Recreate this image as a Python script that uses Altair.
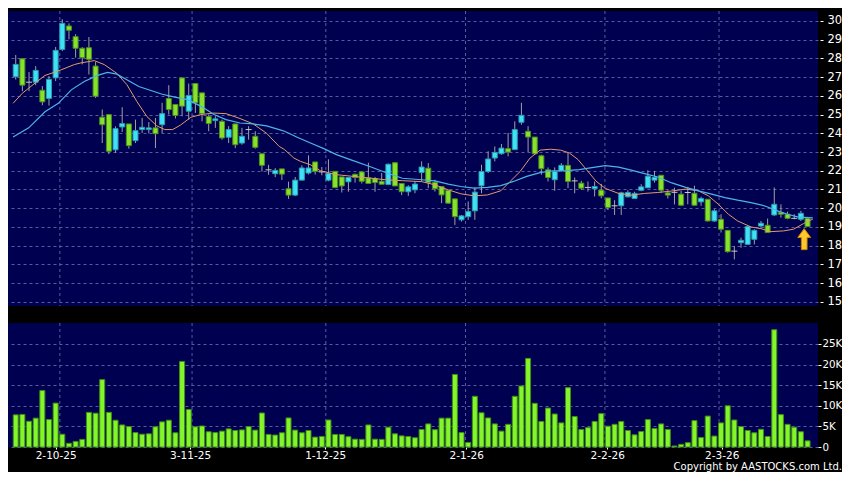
import altair as alt
import pandas as pd

# ---------------- data ----------------
opens = [27.02, 27.98, 26.73, 26.73, 26.30, 25.86, 26.96, 28.48, 29.73, 29.16,
         28.54, 28.57, 27.59, 24.86, 25.00, 23.12, 24.34, 24.50, 23.61, 24.20,
         24.20, 24.29, 24.46, 25.86, 25.54, 26.96, 25.18, 26.66, 26.16, 24.89,
         24.68, 24.64, 23.79, 24.50, 23.48, 24.20, 23.84, 22.91, 22.05, 21.84,
         22.10, 21.04, 20.70, 21.50, 21.88, 22.47, 21.94, 21.50, 21.97, 21.67,
         21.41, 21.81, 21.94, 21.62, 21.58, 21.44, 21.27, 22.43, 21.32, 20.88,
         20.98, 21.91, 22.14, 21.38, 21.16, 20.95, 20.50, 19.38, 19.55, 19.86,
         21.20, 21.96, 22.68, 22.91, 23.18, 23.13, 24.59, 24.11, 23.80, 22.80,
         22.05, 21.52, 22.00, 22.29, 21.46, 21.34, 21.11, 21.04, 20.97, 20.55,
         20.13, 20.13, 20.61, 20.52, 20.96, 21.09, 21.50, 21.76, 20.82, 20.85,
         20.75, 20.84, 20.80, 20.34, 20.48, 19.32, 19.41, 18.82, 17.71, 18.16,
         18.07, 18.34, 19.05, 19.09, 19.64, 19.77, 19.68, 19.46, 19.41, 19.46]
closes = [27.68, 26.57, 26.73, 27.36, 25.68, 26.88, 28.43, 29.87, 29.50, 28.54,
          28.04, 27.95, 25.98, 24.46, 23.04, 24.25, 24.52, 23.34, 24.14, 24.32,
          24.29, 23.98, 25.05, 25.27, 24.95, 25.45, 26.02, 25.63, 25.05, 24.52,
          24.77, 23.75, 24.20, 23.39, 23.84, 24.20, 23.25, 22.29, 22.05, 22.02,
          21.82, 20.70, 21.50, 22.15, 22.15, 21.97, 21.94, 21.85, 21.10, 21.19,
          21.64, 21.64, 21.44, 21.32, 21.37, 21.28, 22.35, 21.19, 20.88, 21.14,
          21.29, 22.20, 21.38, 21.04, 20.71, 20.27, 19.55, 19.59, 19.82, 20.86,
          21.96, 22.63, 22.98, 23.21, 23.00, 24.20, 24.96, 23.80, 22.91, 22.11,
          21.64, 21.96, 22.29, 21.43, 21.46, 21.07, 21.11, 21.16, 20.66, 20.04,
          20.13, 20.82, 20.84, 20.79, 21.14, 21.71, 21.64, 20.96, 20.70, 20.85,
          20.16, 20.84, 20.16, 20.52, 19.32, 19.86, 18.88, 17.68, 17.71, 18.29,
          19.02, 18.82, 19.20, 18.70, 20.21, 19.68, 19.46, 19.46, 19.73, 19.02]
highs = [28.18, 28.00, 27.27, 27.59, 26.52, 27.05, 28.61, 30.09, 29.87, 29.29,
         28.60, 29.14, 27.80, 25.27, 25.00, 24.37, 25.39, 24.50, 24.73, 24.82,
         24.60, 24.82, 25.63, 26.57, 25.54, 26.96, 26.66, 26.66, 26.16, 25.00,
         24.91, 24.73, 24.38, 24.50, 24.29, 24.38, 24.11, 22.91, 22.32, 22.14,
         22.10, 21.42, 21.67, 22.29, 22.82, 22.47, 22.20, 22.61, 21.97, 21.67,
         21.64, 21.85, 21.97, 22.43, 21.67, 21.88, 22.38, 22.47, 21.32, 21.23,
         21.43, 22.50, 22.41, 21.52, 21.16, 20.95, 20.50, 19.64, 20.36, 21.11,
         22.32, 23.04, 23.30, 23.43, 24.02, 24.64, 25.63, 24.38, 23.80, 22.86,
         22.18, 22.18, 22.41, 22.95, 21.64, 21.46, 21.43, 21.43, 21.30, 20.55,
         20.43, 20.88, 20.96, 20.88, 21.28, 22.03, 21.99, 21.76, 20.96, 21.10,
         20.93, 21.14, 21.20, 20.61, 20.48, 19.95, 19.68, 18.82, 17.98, 18.43,
         19.05, 18.88, 19.32, 19.45, 21.11, 20.21, 19.82, 19.68, 19.86, 19.54]
lows = [26.87, 26.25, 26.25, 26.57, 25.50, 25.48, 26.79, 28.39, 29.02, 28.04,
        27.68, 27.14, 25.89, 23.48, 22.89, 22.95, 24.07, 23.18, 23.48, 24.02,
        24.00, 23.21, 24.02, 25.00, 24.79, 24.91, 24.73, 25.09, 24.64, 24.11,
        24.29, 23.66, 23.48, 23.21, 23.39, 23.66, 23.18, 21.96, 21.79, 21.66,
        21.51, 20.50, 20.65, 21.50, 21.80, 21.80, 21.76, 21.44, 21.09, 20.84,
        20.88, 21.37, 21.32, 21.32, 20.88, 21.28, 21.23, 21.19, 20.70, 20.66,
        20.80, 21.43, 21.07, 20.89, 20.27, 20.23, 19.11, 19.29, 19.38, 19.38,
        20.80, 21.88, 22.50, 22.86, 22.77, 23.13, 24.46, 23.00, 22.86, 21.79,
        21.43, 20.93, 21.96, 21.07, 20.80, 20.98, 20.89, 20.63, 20.53, 19.90,
        19.64, 19.64, 20.58, 20.52, 20.91, 21.09, 21.37, 20.82, 20.52, 20.20,
        20.13, 20.21, 20.13, 20.13, 19.29, 19.27, 18.70, 17.63, 17.27, 17.89,
        18.07, 18.07, 18.96, 18.70, 19.59, 19.50, 19.41, 19.41, 19.32, 19.02]
volumes_k = [7.8, 7.9, 6.25, 7.0, 13.7, 6.65, 10.65, 3.1, 0.9, 1.35,
             1.85, 8.4, 8.2, 16.35, 8.4, 6.5, 5.35, 4.95, 3.5, 3.1,
             3.2, 4.9, 6.1, 6.5, 3.45, 20.75, 9.1, 4.9, 5.1, 3.7,
             3.5, 3.85, 4.4, 4.0, 4.15, 4.95, 4.1, 8.25, 3.05, 2.9,
             3.45, 7.05, 4.1, 3.45, 4.0, 2.4, 2.55, 6.55, 3.05, 3.05,
             2.5, 1.9, 1.85, 5.35, 1.9, 1.85, 4.8, 3.2, 2.7, 2.55,
             2.25, 4.25, 5.6, 4.2, 7.0, 7.0, 17.6, 3.5, 1.1, 12.3,
             8.3, 7.05, 5.6, 3.85, 5.5, 12.3, 14.8, 21.5, 10.6, 6.2,
             9.45, 8.0, 5.85, 14.4, 7.4, 4.25, 4.7, 6.2, 8.1, 5.05,
             5.5, 6.2, 4.0, 2.95, 3.75, 6.65, 4.5, 5.6, 4.25, 0.25,
             0.65, 1.05, 6.4, 2.3, 7.5, 2.65, 5.85, 10.0, 6.55, 4.95,
             4.0, 3.45, 4.3, 2.55, 28.45, 7.85, 5.5, 4.8, 3.7, 1.5]

ma_short_x = [-0.4, 1.0, 2.9, 4.4, 5.9, 6.9, 8.8, 9.8, 11.8, 13.3, 15.2, 16.7, 18.2, 19.7,
              21.2, 22.4, 23.6, 24.8, 26.3, 27.8, 29.8, 31.6, 33.7, 35.7, 37.7, 39.6,
              40.4, 41.8, 42.8, 44.3, 45.8, 48.2, 50.7, 53.2, 55.6, 58.1, 61.0, 63.0,
              65.0, 66.9, 68.9, 70.9, 72.9, 74.3, 75.8, 77.3, 78.8, 80.4, 81.9, 83.2,
              84.5, 85.8, 87.2, 88.6, 90.6, 92.5, 94.5, 96.5, 98.6, 100.7, 102.6, 104.1,
              105.6, 107.1, 108.5, 110.5, 112.0, 113.5, 115.4, 116.9, 118.4, 119.8]
ma_short_y = [25.6, 26.14, 26.68, 27.09, 27.27, 27.4, 27.67, 27.76, 27.88, 27.67, 27.2, 26.6,
              25.7, 24.9, 24.4, 24.2, 24.2, 24.45, 24.85, 25.0, 25.08, 25.05, 24.79, 24.5,
              24.0, 23.3, 23.13, 22.68, 22.5, 22.32, 22.0, 21.79, 21.7, 21.61, 21.52, 21.47,
              21.42, 21.25, 20.98, 20.77, 20.66, 20.71, 20.93, 21.43, 21.96, 22.68, 23.1,
              23.15, 23.1, 22.95, 22.6, 22.05, 21.45, 21.06, 20.79, 20.7, 20.79, 20.84,
              20.92, 21.02, 20.93, 20.66, 20.21, 19.68, 19.32, 19.0, 18.91, 18.75, 18.79,
              18.88, 19.18, 19.42]
ma_long_x = [-0.4, 1.95, 4.4, 6.4, 8.35, 10.3, 12.3, 13.8, 15.2, 16.7, 18.5, 20.2, 21.9,
             23.9, 25.8, 27.8, 28.5, 29.8, 31.6, 33.7, 35.7, 37.7, 39.6, 40.4, 42.3, 44.3,
             46.3, 48.2, 50.7, 53.2, 55.6, 58.1, 61.0, 63.0, 65.0, 66.9, 68.9, 70.9, 72.9,
             74.8, 76.8, 78.8, 80.7, 82.7, 84.7, 86.6, 88.6, 90.6, 92.5, 94.5, 96.5, 98.6,
             100.7, 102.6, 104.6, 106.6, 108.5, 110.5, 112.5, 114.5, 116.0, 117.5, 119.0, 119.8]
ma_long_y = [23.8, 24.29, 25.15, 25.6, 26.32, 26.77, 27.09, 27.25, 27.16, 26.86, 26.5, 26.3,
             26.1, 25.93, 25.8, 25.45, 25.3, 25.0, 24.73, 24.55, 24.5, 24.4, 24.2, 24.11,
             23.79, 23.48, 23.18, 22.86, 22.54, 22.23, 21.91, 21.6, 21.52, 21.46, 21.29,
             21.16, 21.07, 21.11, 21.21, 21.43, 21.7, 21.9, 22.0, 22.01, 22.06, 22.17, 22.27,
             22.19, 22.03, 21.85, 21.67, 21.35, 21.11, 20.93, 20.75, 20.57, 20.43, 20.3,
             20.13, 19.86, 19.68, 19.54, 19.5, 19.48]

x_tick_idx = [6.0, 26.2, 46.5, 67.7, 88.9, 106.1]
x_tick_labels = ["2-10-25", "3-11-25", "1-12-25", "2-1-26", "2-2-26", "2-3-26"]
grid_idx = [6.63, 26.5, 46.6, 67.6, 88.55, 105.7]
price_ticks = list(range(15, 31))
volume_ticks = [0, 5, 10, 15, 20, 25]
arrow_idx = [118.5]
arrow_price = [18.35]
copyright_text = "Copyright by AASTOCKS.com Ltd."

# ---------------- tables ----------------
kinds = ["up" if c > o else ("down" if c < o else "flat") for o, c in zip(opens, closes)]
candles = pd.DataFrame({
    "idx": list(range(len(opens))), "open": opens, "close": closes,
    "high": highs, "low": lows, "vol": volumes_k, "kind": kinds,
})
ma_short = pd.DataFrame({"idx": ma_short_x, "ma": ma_short_y})
ma_long = pd.DataFrame({"idx": ma_long_x, "ma": ma_long_y})
grid_df = pd.DataFrame({"idx": grid_idx})
arrow_df = pd.DataFrame({"idx": arrow_idx, "p": arrow_price})
note_df = pd.DataFrame({"t": [copyright_text]})

# ---------------- styling ----------------
FONT = "DejaVu Sans"
NAVY = "#000050"
GRID = "#5a5a9c"
CYAN = "#3fe2f4"
GREEN = "#86e22c"
W = 810
H_PRICE = 295
H_VOL = 124

xscale = alt.Scale(domain=[-0.41, 119.82], nice=False, zero=False)
price_scale = alt.Scale(domain=[14.78, 30.53], nice=False, zero=False)
vol_scale = alt.Scale(domain=[0, 30.08], nice=False, zero=False)

price_axis = alt.Axis(orient="right", values=price_ticks, grid=True, gridColor=GRID,
                      gridDash=[3, 3], gridWidth=1, domain=False, ticks=True,
                      tickColor="#ffffff", tickSize=3, offset=2, labelPadding=4,
                      labelColor="#ffffff", labelFont=FONT, labelFontSize=11.5, title=None)
vol_axis = alt.Axis(orient="right", values=volume_ticks, grid=True, gridColor=GRID,
                    gridDash=[3, 3], gridWidth=1, domain=False, ticks=True,
                    tickColor="#ffffff", tickSize=3, offset=0, labelPadding=1,
                    labelColor="#ffffff", labelFont=FONT, labelFontSize=10.3, title=None,
                    labelExpr="datum.value == 0 ? '0' : datum.value + 'K'")
label_expr = " : ".join(f"datum.value == {v} ? '{t}'" for v, t in zip(x_tick_idx, x_tick_labels)) + " : ''"
x_axis = alt.Axis(orient="bottom", values=x_tick_idx, grid=False, domain=False, ticks=True,
                  tickColor="#ffffff", tickSize=2, offset=0, labelPadding=1,
                  labelColor="#ffffff", labelFont=FONT, labelFontSize=10.5, title=None,
                  labelExpr=label_expr, labelOverlap=False)

X = alt.X("idx:Q", scale=xscale, axis=None)
XV = alt.X("idx:Q", scale=xscale, axis=x_axis)

# ---------------- price panel ----------------
vgrid_p = alt.Chart(grid_df).mark_rule(color=GRID, strokeDash=[3, 3], strokeWidth=1).encode(x=X)
wicks = alt.Chart(candles).mark_rule(color="#a0a0a0", strokeWidth=1).encode(
    x=X,
    y=alt.Y("low:Q", scale=price_scale, axis=price_axis),
    y2="high:Q",
)
bodies = alt.Chart(candles).transform_filter("datum.kind != 'flat'").mark_bar(
    size=5, strokeWidth=1
).encode(
    x=X,
    y=alt.Y("open:Q", scale=price_scale, axis=price_axis),
    y2="close:Q",
    color=alt.Color("kind:N", scale=alt.Scale(domain=["up", "down"], range=[CYAN, GREEN]), legend=None),
    stroke=alt.Stroke("kind:N", scale=alt.Scale(domain=["up", "down"], range=["#2a9db0", "#4c8f1c"]), legend=None),
)
dojis = alt.Chart(candles).transform_filter("datum.kind == 'flat'").mark_tick(
    orient="horizontal", size=6, thickness=1, color="#c8c8c8", opacity=1
).encode(
    x=X,
    y=alt.Y("open:Q", scale=price_scale, axis=price_axis),
)
line_s = alt.Chart(ma_short).mark_line(color="#e39a6c", strokeWidth=1).encode(
    x=X, y=alt.Y("ma:Q", scale=price_scale, axis=price_axis))
line_l = alt.Chart(ma_long).mark_line(color="#4cb4e8", strokeWidth=1.2).encode(
    x=X, y=alt.Y("ma:Q", scale=price_scale, axis=price_axis))
arrow = alt.Chart(arrow_df).mark_point(
    shape="M0,-1L0.62,-0.15L0.27,-0.15L0.27,1L-0.27,1L-0.27,-0.15L-0.62,-0.15Z",
    size=441, filled=True, fill="#ffc82a", stroke="#c88400", strokeWidth=1, opacity=1
).encode(x=X, y=alt.Y("p:Q", scale=price_scale, axis=price_axis))

price = alt.layer(vgrid_p, wicks, bodies, dojis, line_s, line_l, arrow).properties(
    width=W, height=H_PRICE)

# ---------------- volume panel ----------------
vgrid_v = alt.Chart(grid_df).mark_rule(color=GRID, strokeDash=[3, 3], strokeWidth=1).encode(x=XV)
vbars = alt.Chart(candles).mark_bar(size=5, color="#84f52a", stroke="#3e8e16", strokeWidth=1).encode(
    x=XV,
    y=alt.Y("vol:Q", scale=vol_scale, axis=vol_axis),
)
note = alt.Chart(note_df).mark_text(
    align="right", baseline="alphabetic", color="#ffffff", font=FONT, fontSize=10
).encode(x=alt.value(W + 24), y=alt.value(H_VOL + 23), text="t:N")

volume = alt.layer(vgrid_v, vbars, note).properties(width=W, height=H_VOL)

chart = alt.vconcat(price, volume, spacing=14).properties(
    background="#000000",
    padding={"top": 2, "left": 0, "right": 0, "bottom": 0},
).configure_view(fill=NAVY, stroke=None)

chart.save("out.html", embed_options={"renderer": "svg", "actions": False})
